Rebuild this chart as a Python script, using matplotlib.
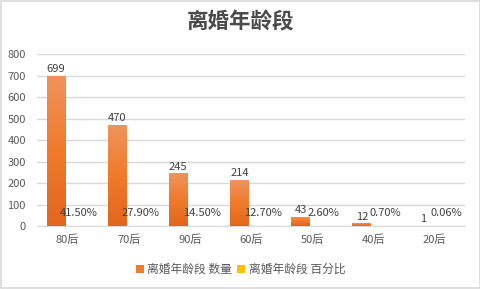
import numpy as np
import matplotlib
matplotlib.use("Agg")
import matplotlib.pyplot as plt
from matplotlib.patches import Rectangle

plt.rcParams['font.family'] = ['Noto Sans CJK SC', 'DejaVu Sans']

# -----------------------------
# Data
# -----------------------------
categories = ["80后", "70后", "90后", "60后", "50后", "40后", "20后"]
counts = [699, 470, 245, 214, 43, 12, 1]
percents = [41.50, 27.90, 14.50, 12.70, 2.60, 0.70, 0.06]
series_names = ["离婚年龄段 数量", "离婚年龄段 百分比"]

orange = "#ED7D31"
yellow = "#FFC000"
text_gray = "#595959"

fig = plt.figure(figsize=(4.81, 2.89), dpi=100)
fig.patch.set_facecolor("white")
fig.add_artist(Rectangle((0.002, 0.003), 0.996, 0.994, transform=fig.transFigure,
                         fill=False, edgecolor="#D9D9D9", linewidth=1.2))

ax = fig.add_axes([0.077, 0.218, 0.890, 0.595])

x = np.arange(len(categories))
w = 0.31
off = 0.19

bars = ax.bar(x - off, counts, w, color=orange, label=series_names[0], zorder=2)
# percent values plotted on the same axis (tiny bars)
pbars = ax.bar(x + off, [p / 100 for p in percents], w, color=yellow,
               label=series_names[1], zorder=2)

# gradient fill on the count bars
grad = np.linspace(0, 1, 256).reshape(-1, 1)
cmap = matplotlib.colors.LinearSegmentedColormap.from_list(
    "og", ["#E2661C", "#F07A2A", "#F0935E"])
for b in bars:
    bx, by = b.get_x(), b.get_y()
    bw, bh = b.get_width(), b.get_height()
    im = ax.imshow(grad, cmap=cmap, aspect="auto", origin="lower",
                   extent=[bx, bx + bw, by, by + bh], zorder=3)
    im.set_clip_path(b)
    b.set_facecolor("none")

# value labels
for xi, c in zip(x, counts):
    ax.text(xi - off, c + 8, str(c), ha="center", va="bottom",
            fontsize=8, color="#404040", zorder=4)
for xi, p in zip(x, percents):
    ax.text(xi + off, 38, f"{p:.2f}%", ha="center", va="bottom",
            fontsize=8, color="#404040", zorder=4)

ax.set_xlim(-0.5, len(categories) - 0.5)
ax.set_ylim(0, 800)
ax.set_yticks(range(0, 801, 100))
ax.set_xticks(x)
ax.set_xticklabels(categories)
ax.tick_params(axis="both", length=0, labelsize=8, colors=text_gray)
ax.tick_params(axis="y", pad=8)
ax.tick_params(axis="x", pad=6)
ax.grid(axis="y", color="#D9D9D9", linewidth=1, zorder=0)
for s in ["top", "right", "left"]:
    ax.spines[s].set_visible(False)
ax.spines["bottom"].set_color("#D9D9D9")

fig.text(0.5, 0.924, "离婚年龄段", ha="center", va="center",
         fontsize=15.5, fontweight="bold", color="#4a4a4a")

fig.legend(handles=[bars, pbars], labels=series_names, loc="center",
           bbox_to_anchor=(0.5, 0.068), ncol=2, frameon=False, fontsize=8.5,
           labelcolor=text_gray, handlelength=0.7, handleheight=0.7,
           handletextpad=0.3, columnspacing=0.4)
for h, col in zip(fig.legends[0].legend_handles, [orange, yellow]):
    h.set_facecolor(col)

fig.savefig("out.png", dpi=100)
